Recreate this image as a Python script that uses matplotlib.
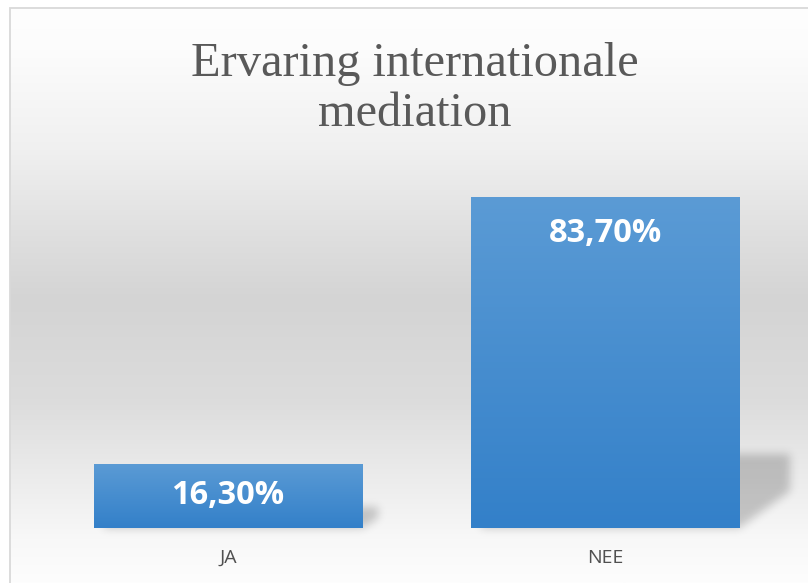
import numpy as np
import matplotlib
matplotlib.use("Agg")
import matplotlib.pyplot as plt
from matplotlib.path import Path
from matplotlib.colors import to_rgb

# ---------------- data ----------------
categories = ["JA", "NEE"]
values = [16.3, 83.7]
value_labels = ["16,30%", "83,70%"]
title_text = "Ervaring internationale\nmediation"

# ---------------- figure ----------------
W, H, DPI = 808, 583, 100
fig = plt.figure(figsize=(W / DPI, H / DPI), dpi=DPI)
fig.patch.set_facecolor("white")

# background axes in pixel coords (y downward)
bg = fig.add_axes([0, 0, 1, 1], zorder=0)
bg.set_xlim(0, W)
bg.set_ylim(H, 0)
bg.axis("off")

chart_left, chart_top = 9.5, 7.5
ys = np.linspace(chart_top, H, 400)
stops_y = np.array([7.5, 50, 150, 230, 300, 400, 480, 540, 583])
stops_v = np.array([254, 252, 240, 224, 212, 220, 236, 248, 253]) / 255.0
g = np.interp(ys, stops_y, stops_v)
grad = np.dstack([g[:, None]] * 3)
bg.imshow(grad, extent=(chart_left, W + 20, H, chart_top), aspect="auto",
          interpolation="bilinear", origin="upper", zorder=0)
bg.plot([chart_left, chart_left, W + 5], [H + 5, chart_top, chart_top],
        color="#d9d9d9", lw=1.3, zorder=1, solid_joinstyle="miter")
bg.set_xlim(0, W)
bg.set_ylim(H, 0)

# ---------------- main axes ----------------
base_px = 528
px_per_unit = 3.955
ymax = 100
ax = fig.add_axes([39.5 / W, (H - base_px) / H, 754 / W, ymax * px_per_unit / H], zorder=2)
ax.set_facecolor("none")
for s in ax.spines.values():
    s.set_visible(False)

x = np.arange(len(categories))
bars = ax.bar(x, values, width=0.711, color="#4a8fd0", zorder=3)
ax.set_xlim(-0.5, len(categories) - 0.5)
ax.set_ylim(0, ymax)
ax.set_yticks([])
ax.set_xticks(x, categories)
ax.tick_params(axis="x", length=0, pad=15, labelsize=14, labelcolor="#505050")
for lbl in ax.get_xticklabels():
    lbl.set_fontfamily("Open Sans")

# bar gradients
top_c = np.array(to_rgb("#5b9bd5"))
bot_c = np.array(to_rgb("#3380c9"))
t = np.linspace(0, 1, 200)[:, None]
bar_grad = (top_c[None, :] * (1 - t) + bot_c[None, :] * t)[:, None, :]
for b in bars:
    x0, y0 = b.get_x(), b.get_y()
    im = ax.imshow(bar_grad, extent=(x0, x0 + b.get_width(), y0, y0 + b.get_height()),
                   aspect="auto", origin="upper", interpolation="bilinear", zorder=3.5)
    im.set_clip_path(b)
ax.set_xlim(-0.5, len(categories) - 0.5)
ax.set_ylim(0, ymax)

# ---------------- shadows (computed from bar geometry) ----------------
yy, xx = np.mgrid[0:H, 0:W]
pts = np.column_stack([xx.ravel() + 0.5, yy.ravel() + 0.5])
mask = np.zeros(H * W)
for b in bars:
    (dx0, dy0), (dx1, dy1) = ax.transData.transform(
        [(b.get_x(), 0), (b.get_x() + b.get_width(), b.get_height())])
    base = H - dy0
    hpx = dy1 - dy0
    sh_h = 0.2 * hpx + 8
    sh_w = 0.13 * hpx + 8
    poly = Path([(dx0 + 10, base), (dx1, base), (dx1 + sh_w, base - 0.5 * sh_h),
                 (dx1 + sh_w, base - sh_h), (dx0 + 10, base - sh_h), (dx0 + 10, base)])
    mask = np.maximum(mask, poly.contains_points(pts).astype(float))
mask = mask.reshape(H, W)


def blur1d(a, sigma, axis):
    r = int(3 * sigma)
    k = np.exp(-0.5 * (np.arange(-r, r + 1) / sigma) ** 2)
    k /= k.sum()
    return np.apply_along_axis(lambda v: np.convolve(v, k, mode="same"), axis, a)


mask = blur1d(blur1d(mask, 4.5, 0), 4.5, 1)
shadow = np.zeros((H, W, 4))
shadow[..., 3] = mask * 0.2
bg.imshow(shadow, extent=(0, W, H, 0), origin="upper", interpolation="bilinear", zorder=2)
bg.set_xlim(0, W)
bg.set_ylim(H, 0)

# ---------------- data labels ----------------
for b, lab in zip(bars, value_labels):
    (_, ybot), (_, ytop) = ax.transData.transform([(0, 0), (0, b.get_height())])
    off_px = min(37, (ytop - ybot) / 2)
    ax.annotate(lab, (b.get_x() + b.get_width() / 2, b.get_height()),
                xytext=(0, -off_px * 72 / DPI), textcoords="offset points",
                ha="center", va="center", color="white", fontsize=23.5,
                fontweight="bold", fontfamily="Open Sans", zorder=5)

# ---------------- title ----------------
fig.text(415 / W, 1 - 89 / H, title_text, ha="center", va="center",
         fontsize=34.8, color="#595959", fontfamily="Liberation Serif",
         linespacing=1.16)

fig.savefig("out.png", dpi=DPI)
